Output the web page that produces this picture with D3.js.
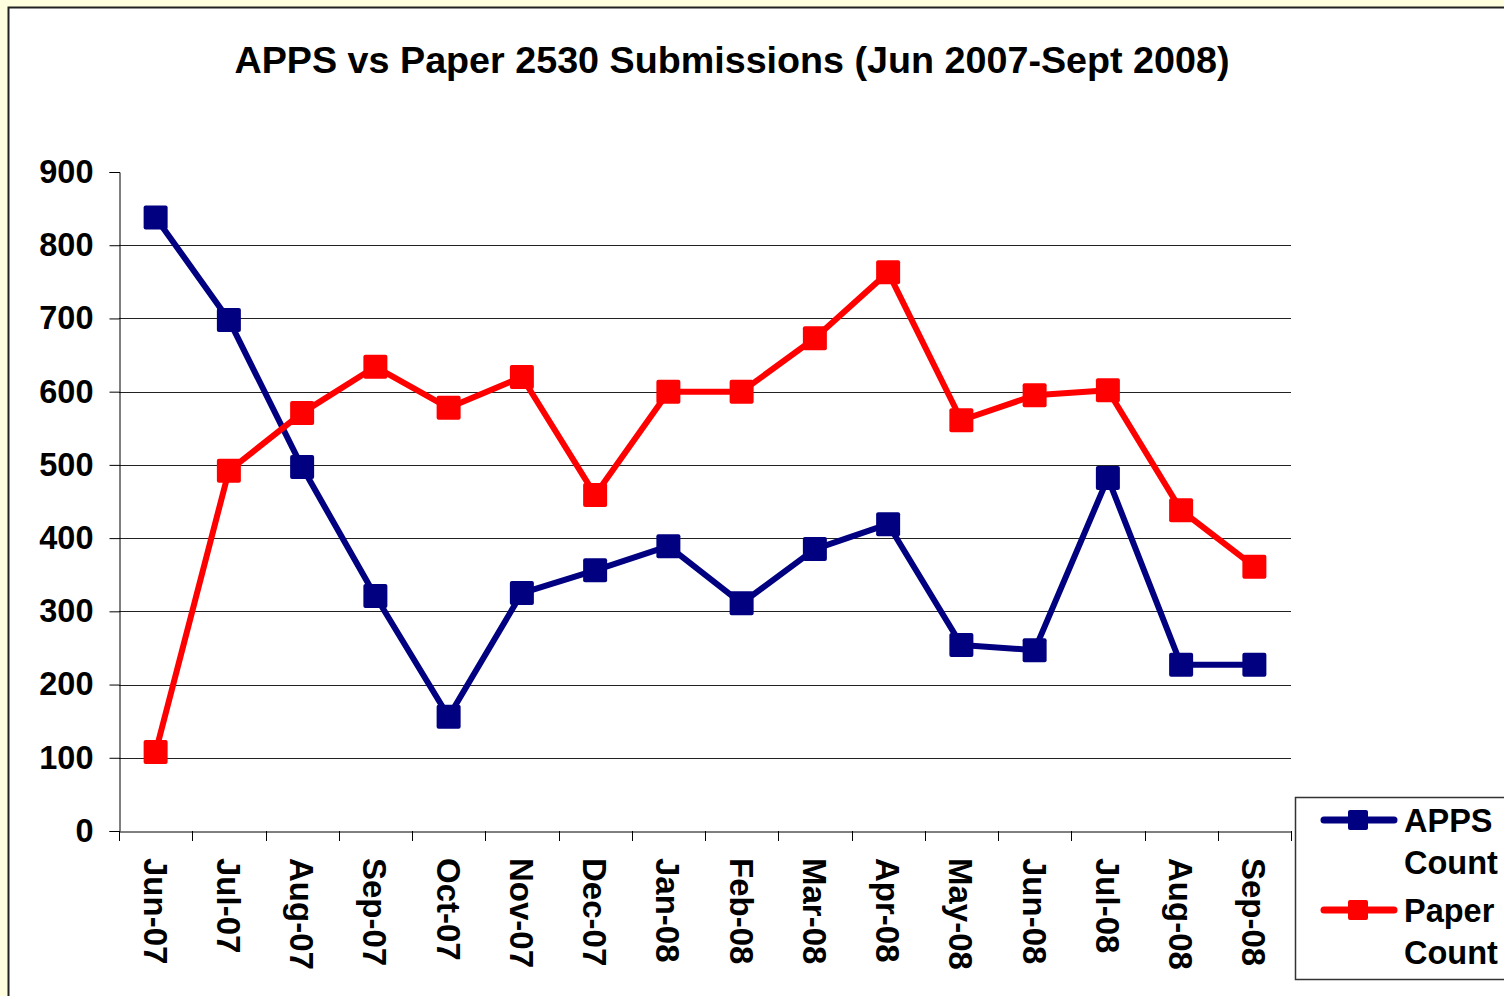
<!DOCTYPE html>
<html>
<head>
<meta charset="utf-8">
<script src="https://cdn.jsdelivr.net/npm/d3@7"></script>
<style>
    body { margin: 0; background: #FFFFDF; }
    svg { display: block; }
    text { font-family: "Liberation Sans", Arial, sans-serif; font-weight: bold; fill: #000; }
</style>
</head>
<body>
<div id="chart"></div>
<script>
    // Chart data
    const months = ['Jun-07', 'Jul-07', 'Aug-07', 'Sep-07', 'Oct-07', 'Nov-07', 'Dec-07', 'Jan-08',
        'Feb-08', 'Mar-08', 'Apr-08', 'May-08', 'Jun-08', 'Jul-08', 'Aug-08', 'Sep-08'];
    const appsCount = [838, 698, 497, 321, 156, 325, 356, 389, 311, 385, 419, 254, 247, 482, 227, 227];
    const paperCount = [108, 492, 571, 634, 578, 620, 459, 600, 600, 673, 763, 561, 595, 602, 438, 361];
    const yTicks = [0, 100, 200, 300, 400, 500, 600, 700, 800, 900];
    const seriesNames = [['APPS', 'Count'], ['Paper', 'Count']];
    const seriesColors = ['#000080', '#FF0000'];

    const width = 1504, height = 996;
    const plot = { left: 119, right: 1291, top: 172, bottom: 831 };

    const svg = d3.select('#chart')
        .append('svg')
        .attr('width', width)
        .attr('height', height);

    // White chart area with dark border
    svg.append('rect')
        .attr('x', 8.5)
        .attr('y', 7.5)
        .attr('width', width)
        .attr('height', height)
        .attr('fill', '#fff')
        .attr('stroke', '#222')
        .attr('stroke-width', 2);

    // Title
    svg.append('text')
        .attr('x', 732)
        .attr('y', 73)
        .attr('text-anchor', 'middle')
        .style('font-size', '37.7px')
        .text('APPS vs Paper 2530 Submissions (Jun 2007-Sept 2008)');

    // Scales
    const x = d3.scaleBand()
        .domain(months)
        .range([plot.left, plot.right]);

    const y = d3.scaleLinear()
        .domain([0, 900])
        .range([plot.bottom, plot.top]);

    // Gridlines (none at the top)
    svg.append('g')
        .selectAll('line')
        .data(yTicks.filter(d => d > 0 && d < 900))
        .enter()
        .append('line')
        .attr('x1', plot.left)
        .attr('x2', plot.right)
        .attr('y1', d => Math.round(y(d)) + 0.5)
        .attr('y2', d => Math.round(y(d)) + 0.5)
        .attr('stroke', '#222')
        .attr('stroke-width', 1);

    // Y axis
    const yAxis = svg.append('g')
        .attr('transform', `translate(${plot.left + 0.5},0)`)
        .call(d3.axisLeft(y).tickValues(yTicks).tickSize(10).tickPadding(16));
    yAxis.select('.domain').attr('stroke', '#000');
    yAxis.selectAll('.tick line').attr('stroke', '#000');
    yAxis.selectAll('text')
        .style('font-size', '32.5px')
        .attr('font-family', null)
        .attr('fill', '#000');

    // X axis
    const xAxis = svg.append('g')
        .attr('transform', `translate(0,${plot.bottom + 0.5})`)
        .call(d3.axisBottom(x).tickSize(0).tickFormat(''));
    xAxis.select('.domain').attr('stroke', '#000');

    // Category boundary ticks
    svg.append('g')
        .selectAll('line')
        .data(months.concat(['end']))
        .enter()
        .append('line')
        .attr('x1', (d, i) => Math.round(plot.left + i * x.step()) + 0.5)
        .attr('x2', (d, i) => Math.round(plot.left + i * x.step()) + 0.5)
        .attr('y1', plot.bottom)
        .attr('y2', plot.bottom + 10)
        .attr('stroke', '#000');

    // Rotated month labels
    svg.append('g')
        .selectAll('text')
        .data(months)
        .enter()
        .append('text')
        .attr('transform', d => `translate(${x(d) + x.bandwidth() / 2},858) rotate(90)`)
        .attr('dy', '0.36em')
        .style('font-size', '33px')
        .text(d => d);

    // Series
    const series = [appsCount, paperCount];
    const line = d3.line()
        .x((d, i) => x(months[i]) + x.bandwidth() / 2)
        .y(d => y(d));

    series.forEach((values, s) => {
        svg.append('path')
            .datum(values)
            .attr('d', line)
            .attr('fill', 'none')
            .attr('stroke', seriesColors[s])
            .attr('stroke-width', 6)
            .attr('stroke-linejoin', 'round');

        svg.append('g')
            .selectAll('rect')
            .data(values)
            .enter()
            .append('rect')
            .attr('x', (d, i) => x(months[i]) + x.bandwidth() / 2 - 12)
            .attr('y', d => y(d) - 12)
            .attr('width', 24)
            .attr('height', 24)
            .attr('rx', 2)
            .attr('fill', seriesColors[s]);
    });

    // Legend
    const legend = svg.append('g');
    legend.append('rect')
        .attr('x', 1295.5)
        .attr('y', 797.5)
        .attr('width', 230)
        .attr('height', 182)
        .attr('fill', '#fff')
        .attr('stroke', '#333')
        .attr('stroke-width', 1.5);

    seriesNames.forEach((name, s) => {
        const cy = 820 + s * 90;
        legend.append('line')
            .attr('x1', 1324)
            .attr('x2', 1394)
            .attr('y1', cy)
            .attr('y2', cy)
            .attr('stroke', seriesColors[s])
            .attr('stroke-width', 7)
            .attr('stroke-linecap', 'round');
        legend.append('rect')
            .attr('x', 1348)
            .attr('y', cy - 10)
            .attr('width', 20)
            .attr('height', 20)
            .attr('rx', 2)
            .attr('fill', seriesColors[s]);
        name.forEach((word, k) => {
            legend.append('text')
                .attr('x', 1404)
                .attr('y', cy + 12 + k * 42)
                .style('font-size', '32.5px')
                .text(word);
        });
    });
</script>
</body>
</html>
